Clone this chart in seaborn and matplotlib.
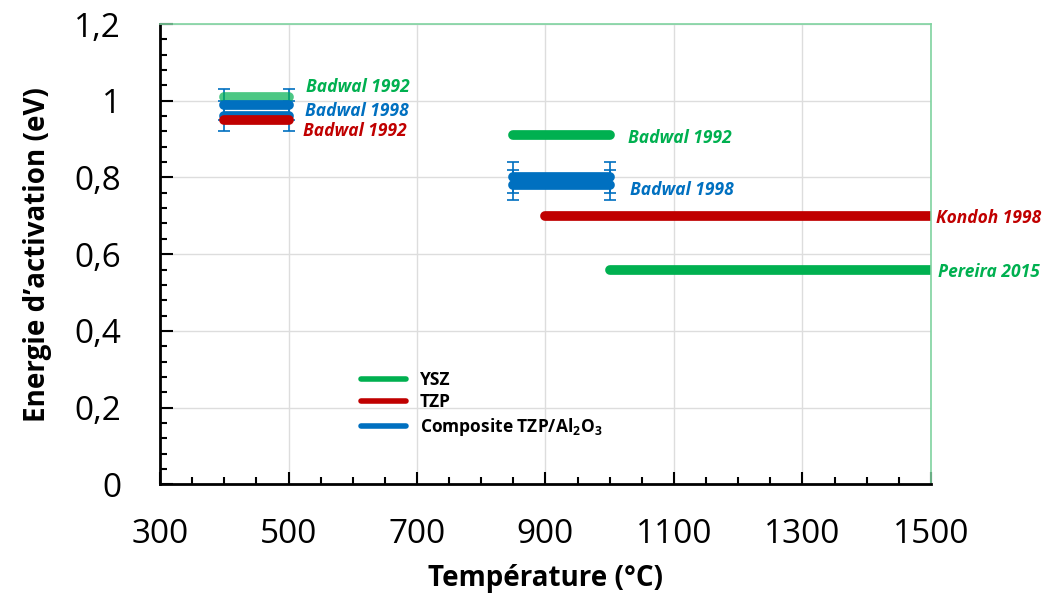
import matplotlib
matplotlib.use('Agg')
import matplotlib.pyplot as plt
from matplotlib.lines import Line2D
from matplotlib.ticker import MultipleLocator, FuncFormatter
import seaborn as sns

##############
### Data. ###
##############
# Each segment : temperature range (start, end), activation energy, material, error.
seg_start = [400, 400, 400, 400, 850, 850, 850, 900, 1000]
seg_end = [500, 500, 500, 500, 1000, 1000, 1000, 1550, 1550]
seg_energy = [1.01, 0.99, 0.96, 0.95, 0.91, 0.80, 0.78, 0.70, 0.56]
seg_material = ['YSZ', 'Composite', 'Composite', 'TZP', 'YSZ', 'Composite', 'Composite', 'TZP', 'YSZ']
seg_error = [0, 0.04, 0.04, 0, 0, 0.04, 0.04, 0, 0]

# Labels next to the segments.
label_text = ['Badwal 1992', 'Badwal 1998', 'Badwal 1992', 'Badwal 1992', 'Badwal 1998', 'Kondoh 1998', 'Pereira 2015']
label_x = [527, 525, 522, 1028, 1031, 1508, 1511]
label_y = [1.036, 0.973, 0.921, 0.903, 0.767, 0.694, 0.553]
label_material = ['YSZ', 'Composite', 'TZP', 'YSZ', 'Composite', 'TZP', 'YSZ']

legend_labels = ['YSZ', 'TZP', 'Composite TZP/Al$_2$O$_3$']
legend_material = ['YSZ', 'TZP', 'Composite']

x_ticks = [300, 500, 700, 900, 1100, 1300, 1500]

colors = {'YSZ' : '#00B050', 'TZP' : '#C00000', 'Composite' : '#0070C0'}

#############
### Plot. ###
#############
sns.set_style('white')
plt.rcParams['font.family'] = ['Open Sans', 'DejaVu Sans']
plt.rcParams['mathtext.default'] = 'regular'
plt.rcParams['text.color'] = 'black'
plt.rcParams['axes.labelcolor'] = 'black'
plt.rcParams['xtick.color'] = 'black'
plt.rcParams['ytick.color'] = 'black'

fig = plt.figure(figsize = (10.46, 6.03), dpi = 100)
ax = fig.add_axes([0.153, 0.197, 0.737, 0.763])

for i in range(len(seg_start)) :
    alpha = 0.7 if (seg_start[i] == 400 and seg_material[i] == 'YSZ') else 1
    sns.lineplot(
        x = [seg_start[i], seg_end[i]], y = [seg_energy[i], seg_energy[i]],
        color = colors[seg_material[i]], linewidth = 7, alpha = alpha,
        solid_capstyle = 'round', ax = ax, legend = False
    )
    if seg_error[i] > 0 :
        ax.errorbar(
            [seg_start[i], min(seg_end[i], 1500)], [seg_energy[i], seg_energy[i]],
            yerr = seg_error[i], fmt = 'none', ecolor = colors[seg_material[i]],
            elinewidth = 1.2, capsize = 4, capthick = 1.2, zorder = 1
        )

for i in range(len(label_text)) :
    ax.text(
        label_x[i], label_y[i], label_text[i],
        color = colors[label_material[i]], fontsize = 12.5,
        fontweight = 'bold', fontstyle = 'italic', va = 'center', ha = 'left',
        clip_on = False
    )

# Axes.
ax.set_xlim(300, 1500)
ax.set_ylim(0, 1.2)
ax.set_xticks(x_ticks)
ax.xaxis.set_minor_locator(MultipleLocator(50))
ax.yaxis.set_major_locator(MultipleLocator(0.2))
ax.yaxis.set_minor_locator(MultipleLocator(0.04))
ax.yaxis.set_major_formatter(FuncFormatter(lambda v, p : ('%g' % round(v, 2)).replace('.', ',')))

ax.grid(True, which = 'major', color = '#DDDDDD', linewidth = 1)
ax.set_axisbelow(True)

ax.tick_params(which = 'both', bottom = True, left = True, top = False, right = False)
ax.tick_params(which = 'major', direction = 'in', length = 9, width = 1.5, labelsize = 24, color = 'black')
ax.tick_params(which = 'minor', direction = 'in', length = 5, width = 1.5, color = 'black')
ax.tick_params(axis = 'y', which = 'major', pad = 28)
ax.tick_params(axis = 'x', which = 'major', pad = 24)

for side in ['left', 'bottom'] :
    ax.spines[side].set_color('black')
    ax.spines[side].set_linewidth(2)
for side in ['top', 'right'] :
    ax.spines[side].set_color('#7FD3A0')
    ax.spines[side].set_linewidth(1.2)

ax.set_xlabel('Température (°C)', fontsize = 20, fontweight = 'bold', labelpad = 10)
ax.set_ylabel('Energie d\u2019activation (eV)', fontsize = 20, fontweight = 'bold', labelpad = 16)

handles = [Line2D([0], [0], color = colors[m], linewidth = 4) for m in legend_material]
ax.legend(
    handles, legend_labels, loc = 'upper left', bbox_to_anchor = (0.24, 0.28),
    frameon = False, handlelength = 2.6, labelspacing = 0.25,
    prop = {'size' : 12.5, 'weight' : 'bold'}
)

plt.savefig('out.png', dpi = 100)
